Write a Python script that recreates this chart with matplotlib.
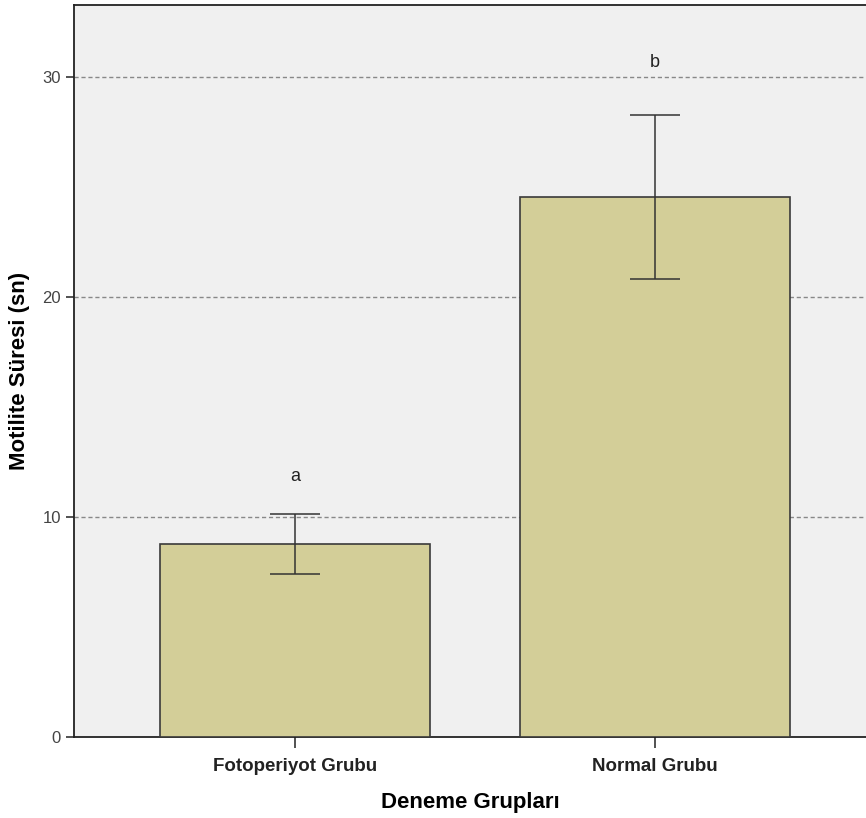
import matplotlib
matplotlib.use("Agg")
import matplotlib.pyplot as plt

groups = ["Fotoperiyot Grubu", "Normal Grubu"]
means = [8.77, 24.55]
err_low = [7.42, 20.83]
err_high = [10.14, 28.28]
letters = ["a", "b"]
letter_y = [11.85, 30.7]
yticks = [0, 10, 20, 30]

plt.rcParams["font.family"] = ["Liberation Sans", "DejaVu Sans"]

fig = plt.figure(figsize=(8.66, 8.18), dpi=100)
ax = fig.add_axes([0.0855, 0.099, 0.9145, 0.895])
ax.set_facecolor("#f0f0f0")

x = list(range(len(groups)))
yerr = [[m - lo for m, lo in zip(means, err_low)],
        [hi - m for m, hi in zip(means, err_high)]]

ax.bar(x, means, width=0.75, color="#d3ce98", edgecolor="#3a3a3a",
       linewidth=1.2, zorder=3)
ax.errorbar(x, means, yerr=yerr, fmt="none", ecolor="#333333",
            elinewidth=1.1, capsize=18, capthick=1.1, zorder=4)

for xi, lab, ly in zip(x, letters, letter_y):
    ax.text(xi, ly, lab, ha="center", va="center", fontsize=13, color="#222222")

ax.set_xlim(-0.614, 1.586)
ax.set_ylim(0, 33.3)
ax.set_yticks(yticks)
ax.set_xticks(x)
ax.set_xticklabels(groups, fontsize=13.5, fontweight="bold", color="#222222")
ax.tick_params(axis="y", length=6, width=1.2, labelsize=12, labelcolor="#444444",
               color="#333333")
ax.tick_params(axis="x", length=8, width=1.2, color="#333333", pad=7)

for v in yticks[1:]:
    ax.axhline(v, color="#888888", linestyle=(0, (3, 2)), linewidth=1.0, zorder=1)

for side in ["left", "bottom", "top"]:
    ax.spines[side].set_color("#222222")
    ax.spines[side].set_linewidth(1.3)
ax.spines["right"].set_visible(False)

ax.set_xlabel("Deneme Grupları", fontsize=16, fontweight="bold", labelpad=12)
ax.set_ylabel("Motilite Süresi (sn)", fontsize=16, fontweight="bold", labelpad=9)

fig.savefig("out.png", dpi=100)
